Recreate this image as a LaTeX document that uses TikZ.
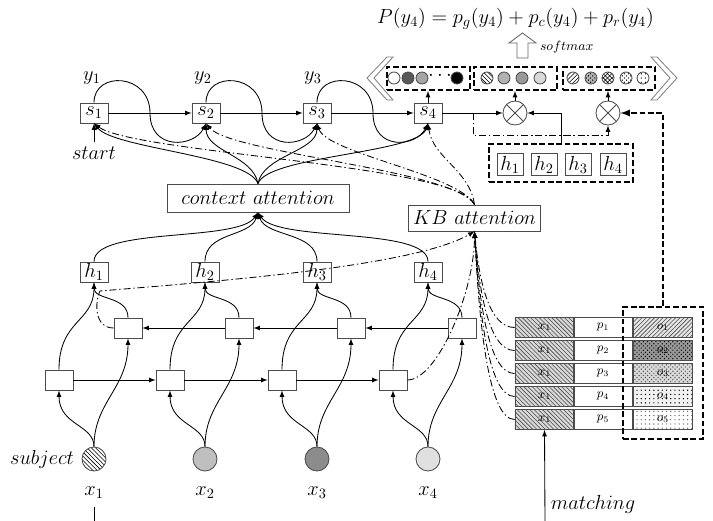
\RequirePackage{fix-cm}
\documentclass[tikz,border=0pt]{standalone}
\usetikzlibrary{patterns}

\tikzset{
  cell/.style={draw=black!70, minimum width=0.7cm, minimum height=0.5cm, inner sep=0pt},
  attn/.style={draw=black!70, minimum height=0.7cm, inner sep=2pt},
  word/.style={circle, draw=black!70, minimum size=0.6cm, inner sep=0pt},
  groupbox/.style={draw, line width=1.3pt, dash pattern=on 4pt off 2pt, minimum height=0.575cm, inner sep=0pt},
  groupline/.style={line width=1.3pt, dash pattern=on 4pt off 2pt},
  dotnode/.style={circle, draw=black!70, minimum size=0.3cm, inner sep=0pt},
  kcell/.style={draw=black!70, minimum width=1.475cm, minimum height=0.5cm, inner sep=0pt, font=\fontsize{9}{10}\selectfont},
  kbline/.style={->, dash pattern=on 5pt off 2pt on 1pt off 2pt},
  otimes/.style={circle, draw=black!70, minimum size=0.6cm, inner sep=0pt,
    path picture={\draw[black!70] (path picture bounding box.north west) -- (path picture bounding box.south east)
      (path picture bounding box.north east) -- (path picture bounding box.south west);}},
}

\begin{document}
\begin{tikzpicture}[x=0.025cm, y=-0.025cm, >=latex, semithick, font=\fontsize{14.5}{16}\selectfont]
    \useasboundingbox (0,0) rectangle (713,521);

    % Output distribution
    \node (prob) at (515.5,19) {$P(y_4) = p_g(y_4) + p_c(y_4) + p_r(y_4)$};
    \draw[black!60] (517,58) -- (517,43) -- (509,43) -- (522.5,33) -- (536,43) -- (528,43) -- (528,58) -- cycle;
    \node[anchor=west, font=\fontsize{9.5}{10}\selectfont] (smx) at (535,47) {$softmax$};

    % Chevrons round the three score vectors
    \draw[black!50] (387,57) -- (367,78) -- (387,100) -- (393,100) -- (374,78) -- (393,57) -- cycle;
    \draw[black!50] (657,57) -- (677,78) -- (657,100) -- (651,100) -- (670,78) -- (651,57) -- cycle;

    % Score vectors: generate, copy, retrieve
    \node[groupbox, minimum width=2.075cm] (gbox) at (428.5,78.5) {};
    \node[groupbox, minimum width=2.075cm] (cbox) at (515.5,78.5) {};
    \node[groupbox, minimum width=2.3cm] (rbox) at (609,78.5) {};
    \node[dotnode, fill=white] (g1) at (394,78) {};
    \node[dotnode, fill=black!65] (g2) at (408,78) {};
    \node[dotnode, fill=black!35] (g3) at (422,78) {};
    \node (gdots) at (440,76) {$\cdots$};
    \node[dotnode, fill=black] (g4) at (457,78) {};
    \node[dotnode, pattern=north west lines] (c1) at (487,78) {};
    \node[dotnode, fill=black!30] (c2) at (504,78) {};
    \node[dotnode, fill=black!40] (c3) at (522,78) {};
    \node[dotnode, fill=black!15] (c4) at (540,78) {};
    \node[dotnode, pattern=north east lines] (r1) at (573,78) {};
    \node[dotnode, preaction={fill=black!30}, pattern=crosshatch dots] (r2) at (591,78) {};
    \node[dotnode, pattern=crosshatch] (r3) at (608,78) {};
    \node[dotnode, pattern=crosshatch dots] (r4) at (626,78) {};
    \node[dotnode, pattern=dots] (r5) at (643,78) {};

    % Decoder states
    \foreach \i/\cx in {1/94,2/206,3/317,4/428} {
        \node[cell] (s\i) at (\cx,113) {$s_\i$};
        \coordinate (m\i) at ({\cx+56},113);
    }
    \node (y1) at (92,78) {$y_1$};
    \node (y2) at (203,78) {$y_2$};
    \node (y3) at (313,78) {$y_3$};
    \node (start) at (94,153) {$start$};
    \draw[->] (start.north) -- (s1.south);
    \foreach \i/\j in {1/2,2/3,3/4} {
        \draw[->] (s\i.east) -- (s\j.west);
        \draw[->] (s\i.north) .. controls +(0,-32) and +(0,-40) .. (m\i)
            .. controls +(0,38) and +(-12,24) .. (s\j.south);
    }

    % Products with the output state
    \node[otimes] (ox1) at (515,113) {};
    \node[otimes] (ox2) at (608,113) {};
    \draw[->] (s4.north) -- (s4.north |- gbox.south);
    \draw[->] (s4.east) -- (ox1.west);
    \draw[->] (ox1.north) -- (ox1.north |- cbox.south);
    \draw[->] (ox2.north) -- (ox2.north |- rbox.south);
    \coordinate (tap) at (473,113);
    \coordinate (turn) at (608,135);
    \draw[kbline] (tap) |- (turn) -- (ox2.south);

    % Encoder states for copying
    \node[groupbox, minimum width=3.6cm, minimum height=0.95cm] (hg) at (561,163) {};
    \foreach \i/\hx in {1/510,2/544,3/578,4/613}
        \node[cell, minimum width=0.65cm, minimum height=0.53cm] (e\i) at (\hx,164.5) {$h_\i$};
    \draw[->] (hg.north) |- (ox1.east);

    % Attention blocks
    \node[attn, minimum width=4.55cm] (ctx) at (258,198) {$context~attention$};
    \node[attn, minimum width=3.3cm, minimum height=0.65cm] (kb) at (474.5,218) {$KB~attention$};
    \draw[->] (ctx.north) .. controls +(-10,-28) and +(20,25) .. (s1.south);
    \draw[->] (ctx.north) .. controls +(-5,-28) and +(0,28) .. (s2.south);
    \draw[->] (ctx.north) .. controls +(5,-28) and +(0,28) .. (s3.south);
    \draw[->] (ctx.north) .. controls +(10,-28) and +(-10,30) .. (s4.south);
    \draw[kbline] (kb.north) .. controls +(-15,-40) and +(40,30) .. (s1.south);
    \draw[kbline] (kb.north) .. controls +(-20,-35) and +(25,30) .. (s2.south);
    \draw[kbline] (kb.north) .. controls +(-15,-30) and +(10,30) .. (s3.south);
    \draw[kbline] (kb.north) .. controls +(-5,-35) and +(5,35) .. (s4.south);

    % Encoder: words, forward and backward cells, states
    \foreach \i/\cx in {1/94,2/205,3/317,4/428} {
        \node[cell] (h\i) at (\cx,272) {$h_\i$};
        \node[cell] (b\i) at ({\cx+34},328) {};
        \node[cell] (f\i) at ({\cx-35},380) {};
        \node (xl\i) at (\cx,493) {$x_\i$};
    }
    \node[word, pattern=north west lines] (x1) at (94,459) {};
    \node[word, fill=black!25] (x2) at (205,459) {};
    \node[word, fill=black!45] (x3) at (317,459) {};
    \node[word, fill=black!12] (x4) at (428,459) {};
    \node[anchor=east] (subj) at (79,459) {$subject$};
    \coordinate (xa) at (94,507);
    \coordinate (xb) at (94,521);
    \draw (xa) -- (xb);

    \foreach \i in {1,...,4} {
        \draw[->] (x\i.north) .. controls +(0,-22) and +(0,35) .. (f\i.south);
        \draw[->] (x\i.north) .. controls +(0,-45) and +(0,50) .. (b\i.south);
        \draw[->] (f\i.north) .. controls +(0,-50) and +(0,40) .. (h\i.south);
        \draw[->] (b\i.north) .. controls +(0,-22) and +(0,18) .. (h\i.south);
    }
    \foreach \i/\j in {1/2,2/3,3/4} {
        \draw[->] (f\i.east) -- (f\j.west);
        \draw[->] (b\j.west) -- (b\i.east);
    }
    \coordinate (bend) at (100,291);
    \draw[kbline] (b1.west) .. controls +(-20,0) and +(-5,10) .. (bend)
        .. controls +(120,-10) and +(-60,35) .. (kb.south);
    \draw[kbline] (f4.east) .. controls +(30,0) and +(0,60) .. (kb.south);

    % States into context attention
    \draw[->] (h1.north) .. controls +(0,-35) and +(-20,30) .. (ctx.south);
    \draw[->] (h2.north) .. controls +(0,-30) and +(-8,25) .. (ctx.south);
    \draw[->] (h3.north) .. controls +(0,-30) and +(8,25) .. (ctx.south);
    \draw[->] (h4.north) .. controls +(0,-35) and +(20,30) .. (ctx.south);

    % Knowledge base triples
    \foreach \r in {1,...,5} {
        \node[kcell, preaction={fill=black!15}, pattern=north west lines, pattern color=black!70] (k\r) at (544.5,{327.5+23*(\r-1)}) {$x_1$};
        \node[kcell] (p\r) at (603,{327.5+23*(\r-1)}) {$p_\r$};
        \draw[kbline] (k\r.west) .. controls +(-25,0) and +(5,40+12*\r) .. (kb.south);
    }
    \node[kcell, preaction={fill=black!10}, pattern=north east lines, pattern color=black!70] (o1) at (663,327.5) {$o_1$};
    \node[kcell, preaction={fill=black!40}, pattern=crosshatch dots] (o2) at (663,350.5) {$o_2$};
    \node[kcell, preaction={fill=black!15}, pattern=crosshatch dots, pattern color=black!70] (o3) at (663,373.5) {$o_3$};
    \node[kcell, preaction={fill=black!5}, pattern=dots] (o4) at (663,396.5) {$o_4$};
    \node[kcell, pattern=dots, pattern color=black!60] (o5) at (663,419.5) {$o_5$};
    \node[groupbox, minimum width=2cm, minimum height=3.3cm] (obox) at (663,373) {};
    \draw[groupline, ->] (obox.north) |- (ox2.east);

    % Subject matching
    \node (match) at (593,504) {$matching$};
    \coordinate (mbot) at (545,521);
    \draw[->] (mbot) -- (k5.south);
\end{tikzpicture}
\end{document}
